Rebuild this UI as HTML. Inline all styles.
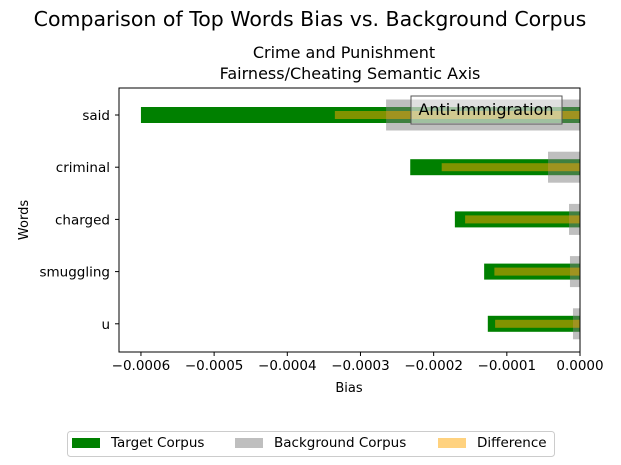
<!DOCTYPE html>
<html><head><meta charset="utf-8"><style>
body{margin:0;background:#fff;}
svg{display:block;font-family:"DejaVu Sans","Liberation Sans",sans-serif;}
</style></head><body>
<svg id="chart" width="621" height="465" viewBox="0 0 621 465">
<text x="310" y="26" text-anchor="middle" font-size="20.5">Comparison of Top Words Bias vs. Background Corpus</text>
<text x="344" y="58" text-anchor="middle" font-size="16">Crime and Punishment</text>
<text x="350" y="79" text-anchor="middle" font-size="16">Fairness/Cheating Semantic Axis</text>
<g id="bars"></g>
<g id="axes"></g>
<g>
<rect x="411" y="96" width="151" height="28" fill="#ffffff" fill-opacity="0.5" stroke="#555" stroke-width="1"/>
<text x="486" y="115" text-anchor="middle" font-size="16">Anti-Immigration</text>
</g>
<text x="349" y="392" text-anchor="middle" font-size="13">Bias</text>
<text x="28" y="220" text-anchor="middle" font-size="13" transform="rotate(-90 28 220)">Words</text>
<g>
<rect x="67.5" y="431.5" width="487" height="25" rx="3" fill="#fff" stroke="#ccc"/>
<g><rect x="72" y="438" width="28" height="10" fill="#008000"/><text x="111" y="447" font-size="13.5">Target Corpus</text></g>
<g><rect x="235" y="438" width="28" height="10" fill="#bfbfbf"/><text x="274" y="447" font-size="13.5">Background Corpus</text></g>
<g><rect x="438" y="438" width="28" height="10" fill="#ffd27f"/><text x="477" y="447" font-size="13.5">Difference</text></g>
</g>
</svg>
<script>
const categories = ["said","criminal","charged","smuggling","u"];
const targetValues = [-0.0006,-0.000232,-0.000171,-0.000131,-0.000126];
const backgroundValues = [-0.000265,-0.0000437,-0.000015,-0.0000137,-0.0000096];
const differenceValues = [-0.000335,-0.000189,-0.000157,-0.000117,-0.000116];
const xTicks = [-0.0006,-0.0005,-0.0004,-0.0003,-0.0002,-0.0001,0];
const xTickLabels = ["\u22120.0006","\u22120.0005","\u22120.0004","\u22120.0003","\u22120.0002","\u22120.0001","0.0000"];

const NS="http://www.w3.org/2000/svg";
const L=119,R=580,T=88,B=352;
const xMin=-0.00063,xMax=0;
function xs(v){return L+(v-xMin)/(xMax-xMin)*(R-L);}
function ys(i){return 115+i*52.2;}
function mk(tag,attrs,parent){const e=document.createElementNS(NS,tag);for(const k in attrs)e.setAttribute(k,attrs[k]);parent.appendChild(e);return e;}
const bars=document.getElementById('bars'),axes=document.getElementById('axes');
function drawBar(v,i,h,fill,op,name){
  const x0=xs(Math.min(v,0)),x1=xs(Math.max(v,0));
  const r=mk('rect',{x:x0,y:ys(i)-h/2,width:x1-x0,height:h,fill:fill,'fill-opacity':op},bars);
  
  
}
categories.forEach((c,i)=>drawBar(targetValues[i],i,16,'#008000',1,'bar-target-'+c));
categories.forEach((c,i)=>drawBar(backgroundValues[i],i,31,'#808080',0.5,'bar-background-'+c));
categories.forEach((c,i)=>drawBar(differenceValues[i],i,8,'#ffa500',0.5,'bar-difference-'+c));
const frame=mk('rect',{x:L,y:T,width:R-L,height:B-T,fill:'none',stroke:'#000','stroke-width':1},axes);


xTicks.forEach((t,i)=>{
  const x=xs(t);
  mk('line',{x1:x,x2:x,y1:B,y2:B+4,stroke:'#000'},axes);
  const tx=mk('text',{x:x,y:B+18,'text-anchor':'middle','font-size':13.5},axes);
  tx.textContent=xTickLabels[i];
  
  
});
categories.forEach((c,i)=>{
  const y=ys(i);
  mk('line',{x1:L-4,x2:L,y1:y,y2:y,stroke:'#000'},axes);
  const tx=mk('text',{x:L-9,y:y+5,'text-anchor':'end','font-size':13.5},axes);
  tx.textContent=c;
  
  
});
</script>
</body></html>
